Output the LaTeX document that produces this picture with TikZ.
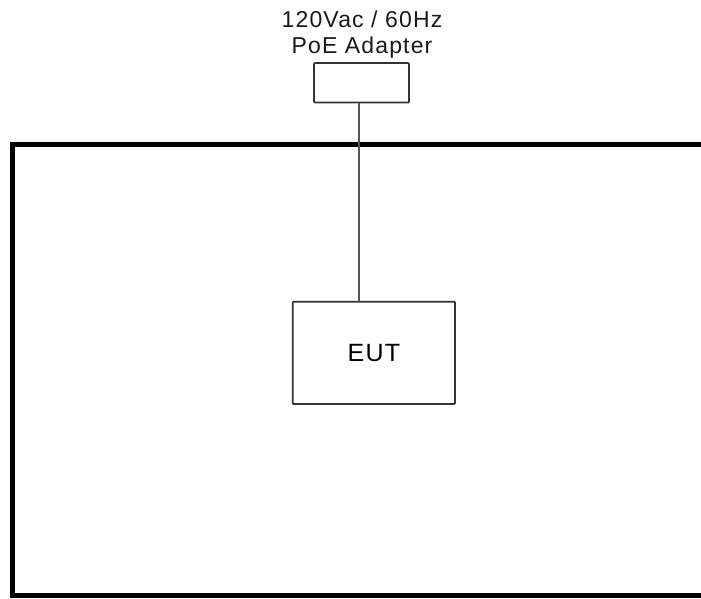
\documentclass[tikz,border=0pt]{standalone}
\usepackage{fontspec}
\setmainfont{Liberation Sans}
\newfontfamily\labelfont[LetterSpace=5]{Liberation Sans}
\definecolor{boxgray}{HTML}{333333}
\definecolor{wiregray}{HTML}{555555}
\begin{document}
\begin{tikzpicture}[x=1pt,y=-1pt,
  enclosure/.style={draw=black,line width=5pt},
  unitbox/.style={draw=boxgray,fill=white,line width=1.8pt,rectangle,inner sep=0pt,rounded corners=1pt},
  wire/.style={draw=wiregray,line width=2pt},
  caption/.style={font=\labelfont\fontsize{23}{26}\selectfont,text=black!90,inner sep=0pt,anchor=base}]
\useasboundingbox (0,0) rectangle (701,598);
\clip (0,0) rectangle (701,598);
% test table boundary, open past the right edge
\draw[enclosure] (12.8,144.8) rectangle (730,595.8);
% supply label
\node[caption] (supply) at (362,27) {120Vac / 60Hz};
\node[caption] (adaptername) at (362,53.3) {PoE Adapter};
% adapter and equipment under test
\node[unitbox,minimum width=95pt,minimum height=39.5pt] (adapter) at (361.5,82.8) {};
\node[unitbox,minimum width=162.3pt,minimum height=102.3pt,
      font=\labelfont\fontsize{25}{30}\selectfont] (eut) at (373.85,352.85) {EUT};
% cable from adapter to EUT
\coordinate (tap) at (359.3,0);
\draw[wire] (adapter.south -| tap) -- (eut.north -| tap);
\end{tikzpicture}
\end{document}
